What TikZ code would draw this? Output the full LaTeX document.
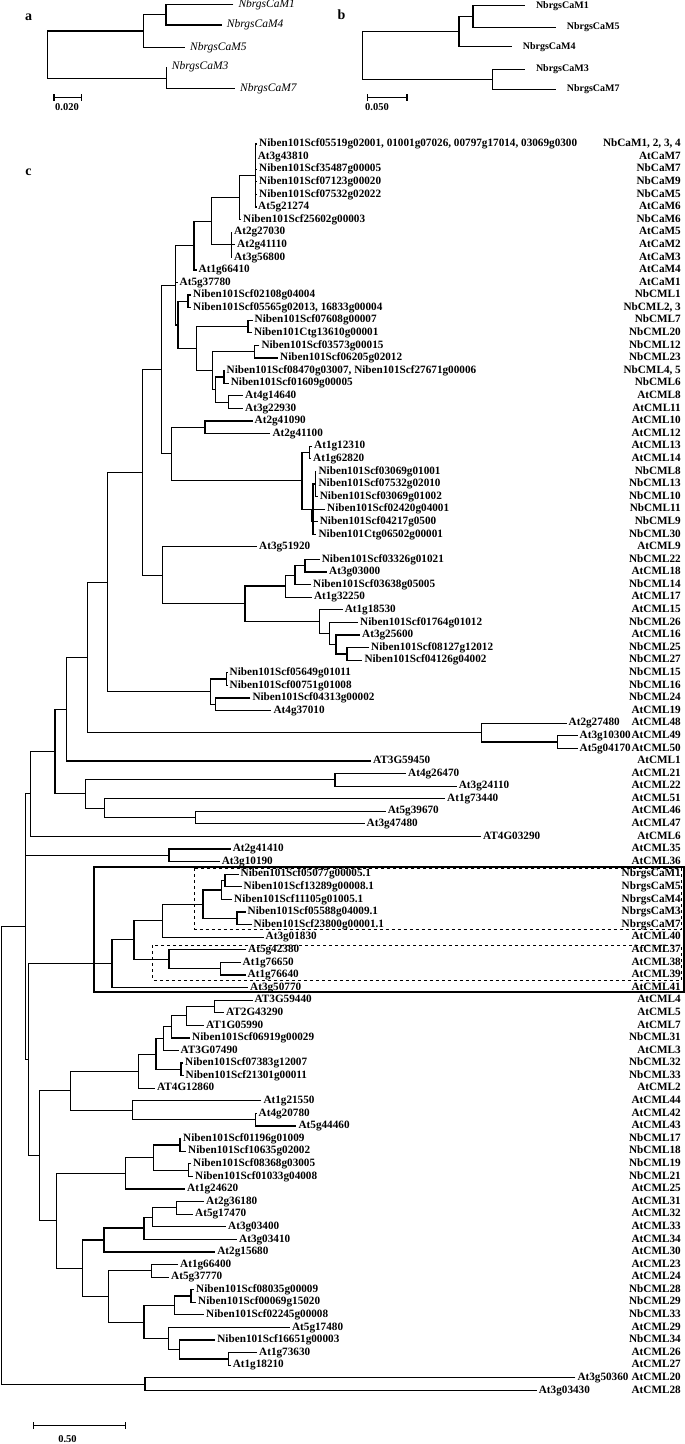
\documentclass[tikz,border=0pt]{standalone}
\usepackage{fontspec}
\setmainfont{Liberation Serif}
\usetikzlibrary{arrows.meta}
\newcommand{\ry}[1]{144+12.59*(#1-1)}
\begin{document}
\begin{tikzpicture}[x=1pt,y=-1pt,
	leaf/.style={anchor=west,inner xsep=2pt,inner ysep=0pt,font=\fontsize{11.2}{12}\selectfont\bfseries,text height=7.6pt,text depth=2.2pt},
	prot/.style={anchor=east,inner sep=0pt,font=\fontsize{11.2}{12}\selectfont\bfseries,text height=7.6pt,text depth=2.2pt},
	ital/.style={anchor=west,inner xsep=5pt,inner ysep=0pt,font=\fontsize{11.5}{12}\selectfont\itshape},
	bold/.style={anchor=west,inner xsep=11pt,inner ysep=0pt,font=\fontsize{10}{12}\selectfont\bfseries},
	panel/.style={font=\fontsize{14}{14}\selectfont\bfseries,inner sep=0pt},
	scl/.style={font=\fontsize{10.5}{12}\selectfont\bfseries,inner sep=0pt},
	tree/.style={line width=1.2pt},
	bar/.style={line width=1.2pt,{Bar[width=7pt]}-{Bar[width=7pt]}}]
\useasboundingbox (0,0) rectangle (685,1444);
% panel a
\node[panel] (pa) at (28.5,17) {a};
\coordinate (a0) at (47.7,54.65);
\coordinate (a1) at (143.3,31);
\coordinate (a2) at (166.7,78.3);
\coordinate (a3) at (166,14.7);
\node[ital] (aM1) at (233.3,4.3) {NbrgsCaM1};
\node[ital] (aM4) at (221.7,25) {NbrgsCaM4};
\node[ital] (aM5) at (185,47.3) {NbrgsCaM5};
\node[ital] (aM3) at (166.7,67) {NbrgsCaM3};
\node[ital] (aM7) at (235,88.3) {NbrgsCaM7};
\foreach \p/\a/\b in {a0/a1/a2,a1/a3/aM5,a3/aM1/aM4,a2/aM3/aM7}
	\draw[tree] (\a) -| (\p) |- (\b);
\draw[bar] (53.3,97.7) -- (81.7,97.7);
\node[scl] (sa) at (67,106.7) {0.020};
% panel b
\node[panel] (pb) at (341.5,15) {b};
\coordinate (b0) at (362.3,55);
\coordinate (b1) at (459,31.6);
\coordinate (b2) at (492.8,79.3);
\coordinate (b3) at (473,16.5);
\node[bold] (bM1) at (524.8,5.7) {NbrgsCaM1};
\node[bold] (bM5) at (555.6,27.3) {NbrgsCaM5};
\node[bold] (bM4) at (511.6,46.7) {NbrgsCaM4};
\node[bold] (bM3) at (524.8,69.3) {NbrgsCaM3};
\node[bold] (bM7) at (555.6,89.3) {NbrgsCaM7};
\foreach \p/\a/\b in {b0/b1/b2,b1/b3/bM4,b3/bM1/bM5,b2/bM3/bM7}
	\draw[tree] (\a) -| (\p) |- (\b);
\draw[bar] (366.7,97.7) -- (407.6,97.7);
\node[scl] (sb) at (377,107) {0.050};
% panel c
\node[panel] (pc) at (28.5,172) {c};
\foreach \i/\tip/\locus/\protein in {
	1/257/{Niben101Scf05519g02001, 01001g07026, 00797g17014, 03069g0300}/{NbCaM1, 2, 3, 4},
	2/255.6/At3g43810/AtCaM7, 3/257/Niben101Scf35487g00005/NbCaM7,
	4/257/Niben101Scf07123g00020/NbCaM9, 5/257/Niben101Scf07532g02022/NbCaM5,
	6/256/At5g21274/AtCaM6, 7/241/Niben101Scf25602g00003/NbCaM6,
	8/232/At2g27030/AtCaM5, 9/235/At2g41110/AtCaM2, 10/232/At3g56800/AtCaM3,
	11/196.5/At1g66410/AtCaM4, 12/177.5/At5g37780/AtCaM1,
	13/191/Niben101Scf02108g04004/NbCML1,
	14/191/{Niben101Scf05565g02013, 16833g00004}/{NbCML2, 3},
	15/252.5/Niben101Scf07608g00007/NbCML7, 16/251.8/Niben101Ctg13610g00001/NbCML20,
	17/259.3/Niben101Scf03573g00015/NbCML12, 18/278/Niben101Scf06205g02012/NbCML23,
	19/224.5/{Niben101Scf08470g03007, Niben101Scf27671g00006}/{NbCML4, 5},
	20/228.6/Niben101Scf01609g00005/NbCML6,
	21/243/At4g14640/AtCML8, 22/243/At3g22930/AtCML11,
	23/252.5/At2g41090/AtCML10, 24/270.3/At2g41100/AtCML12,
	25/312/At1g12310/AtCML13, 26/311/At1g62820/AtCML14,
	27/316.4/Niben101Scf03069g01001/NbCML8, 28/316.4/Niben101Scf07532g02010/NbCML13,
	29/317.7/Niben101Scf03069g01002/NbCML10, 30/325/Niben101Scf02420g04001/NbCML11,
	31/317.7/Niben101Scf04217g0500/NbCML9, 32/316.4/Niben101Ctg06502g00001/NbCML30,
	33/257/At3g51920/AtCML9, 34/319.7/Niben101Scf03326g01021/NbCML22,
	35/327/At3g03000/AtCML18, 36/311/Niben101Scf03638g05005/NbCML14,
	37/311.8/At1g32250/AtCML17, 38/342.6/At1g18530/AtCML15,
	39/358/Niben101Scf01764g01012/NbCML26, 40/360/At3g25600/AtCML16,
	41/369/Niben101Scf08127g12012/NbCML25, 42/362.3/Niben101Scf04126g04002/NbCML27,
	43/227.5/Niben101Scf05649g01011/NbCML15, 44/227.5/Niben101Scf00751g01008/NbCML16,
	45/250.3/Niben101Scf04313g00002/NbCML24, 46/271.4/At4g37010/AtCML19,
	47/566.5/At2g27480/AtCML48, 48/577.5/At3g10300/AtCML49, 49/577.5/At5g04170/AtCML50,
	50/371/AT3G59450/AtCML1, 51/406/At4g26470/AtCML21, 52/456.7/At3g24110/AtCML22,
	53/445/At1g73440/AtCML51, 54/385.6/At5g39670/AtCML46, 55/364.5/At3g47480/AtCML47,
	56/481/AT4G03290/AtCML6, 57/230.6/At2g41410/AtCML35, 58/219.6/At3g10190/AtCML36,
	59/238.5/Niben101Scf05077g00005.1/NbrgsCaM1, 60/241.5/Niben101Scf13289g00008.1/NbrgsCaM5,
	61/232/Niben101Scf11105g01005.1/NbrgsCaM4, 62/245.5/Niben101Scf05588g04009.1/NbrgsCaM3,
	63/251.5/Niben101Scf23800g00001.1/NbrgsCaM7, 64/263.5/At3g01830/AtCML40,
	65/246/At5g42380/AtCML37, 66/240.5/At1g76650/AtCML38, 67/245.5/At1g76640/AtCML39,
	68/248/At3g50770/AtCML41, 69/252.5/AT3G59440/AtCML4, 70/224/AT2G43290/AtCML5,
	71/204/AT1G05990/AtCML7, 72/190/Niben101Scf06919g00029/NbCML31, 73/178.5/AT3G07490/AtCML3,
	74/183/Niben101Scf07383g12007/NbCML32, 75/183.5/Niben101Scf21301g00011/NbCML33,
	76/155/AT4G12860/AtCML2, 77/261.3/At1g21550/AtCML44, 78/256.5/At4g20780/AtCML42,
	79/296.4/At5g44460/AtCML43, 80/181/Niben101Scf01196g01009/NbCML17,
	81/186/Niben101Scf10635g02002/NbCML18, 82/191/Niben101Scf08368g03005/NbCML19,
	83/193/Niben101Scf01033g04008/NbCML21, 84/185/At1g24620/AtCML25,
	85/204/At2g36180/AtCML31, 86/193/At5g17470/AtCML32, 87/226/At3g03400/AtCML33,
	88/237/At3g03410/AtCML34, 89/215.2/At2g15680/AtCML30, 90/178/At1g66400/AtCML23,
	91/169/At5g37770/AtCML24, 92/194/Niben101Scf08035g00009/NbCML28,
	93/196/Niben101Scf00069g15020/NbCML29, 94/204/Niben101Scf02245g00008/NbCML33,
	95/289.9/At5g17480/AtCML29, 96/215.2/Niben101Scf16651g00003/NbCML34,
	97/257/At1g73630/AtCML26, 98/230.6/At1g18210/AtCML27,
	99/575.3/At3g50360/AtCML20, 100/536.7/At3g03430/AtCML28}{
	\node[leaf] (l\i) at (\tip,{\ry{\i}}) {\locus};
	\node[prot] (r\i) at (681,{\ry{\i}}) {\protein};
}
% inner nodes: name/x/row
\foreach \n/\x/\r in {nA/255.6/3.5, nB/239.4/5.25, nCat/231.4/9, nC/211.7/7.125, nD/194/9.06,
	nH14/188/13.5, nG16/248/15.5, n18/254.7/17.5, n20/224/19.5, n22/228.4/21.5, n490/215.2/20.5,
	n483/212.1/19, n448/196.7/17.25, nH/177.9/15.375, nQ/175.7/12.22, n23/205/23.5,
	n26/309.6/25.5, k1/315.3/28, k2/311.8/30.5, k3/313/30, k4/302/27.75, n171/171.3/25.6,
	nR/161.6/18.9, W3/305/34.5, W2/295/35.25, W/285.5/36.1, X4/347/41.5, X3/336/40.75,
	X2/329.4/39.9, X/319.3/38.95, V/245/37.5, T/162.5/35.25, S/142.7/27.1, n44/226.2/43.5,
	n46/215.2/45.5, Y/210.8/44.5, U/107.6/35.8, n49/557.7/48.5, AA/481.8/47.75, Z/87.8/41.8,
	BB/66.8/45.9, n52/335/51.5, n55/195.4/54.5, n238/104.5/53.75, DD/85.6/52.6, CC/54.9/49.25,
	EE/30.7/52.6, GG/169/57.5, n60/224.9/59.5, n61/221.8/60.25, n63/237/62.5, n462/203/61.4,
	n370/162.5/62.7, n502/220.5/66.5, n385/169/65.75, n305/134/64.2, nBox/112/66.1,
	n70/214.3/69.5, n71/186.6/70.25, n72/171.3/71.1, n73/163.4/72.05, n75/181/74.5,
	n355/156/73.3, n315/138.3/74.65, n79/255.6/78.5, n302/132.6/77.75, M/70.3/76.2,
	n81/180/80.5, n83/188.8/82.5, n350/153.7/81.5, n285/125.2/82.75, n86/176.5/85.5,
	n348/152.8/86.25, n328a/144/87.1, n237/104/88.05, n91/151.5/90.5, n93/191/92.5,
	n398/174.8/93.25, n98/228.4/97.5, n408/179.2/96.75, n383/168.2/95.9, n328b/144/94.6,
	n247/108.5/92.55, n188/82.6/90.3, n128/56.2/86.5, L/39.5/81.35, N3/28.5/73.7,
	N1/25.5/63.15, n100/145/99.5, root/1.5/81.3}
	\coordinate (\n) at (\x,{\ry{\r}});
% clades: node/upper child/lower child
\foreach \p/\a/\b in {nA/l1/l6,nB/nA/l7,nCat/l8/l10,nC/nB/nCat,nD/nC/l11,nH14/l13/l14,
	nG16/l15/l16,n18/l17/l18,n20/l19/l20,n22/l21/l22,n490/n20/n22,n483/n18/n490,n448/nG16/n483,
	nH/nH14/n448,nQ/nD/nH,n23/l23/l24,n26/l25/l26,k1/l27/l29,k2/l30/l31,k3/k1/l32,k4/n26/k3,
	n171/n23/k4,nR/nQ/n171,W3/l34/l35,W2/W3/l36,W/W2/l37,X4/l41/l42,X3/l40/X4,X2/l39/X3,
	X/l38/X2,V/W/X,T/l33/V,S/nR/T,n44/l43/l44,n46/l45/l46,Y/n44/n46,U/S/Y,n49/l48/l49,
	AA/l47/n49,Z/U/AA,BB/Z/l50,n52/l51/l52,n55/l54/l55,n238/l53/n55,DD/n52/n238,CC/BB/DD,
	EE/CC/l56,GG/l57/l58,n60/l59/l60,n61/n60/l61,n63/l62/l63,n462/n61/n63,n370/n462/l64,
	n502/l66/l67,n385/l65/n502,n305/n370/n385,nBox/n305/l68,n70/l69/l70,n71/n70/l71,
	n72/n71/l72,n73/n72/l73,n75/l74/l75,n355/n73/n75,n315/n355/l76,n79/l78/l79,n302/l77/n79,
	M/n315/n302,n81/l80/l81,n83/l82/l83,n350/n81/n83,n285/n350/l84,n86/l85/l86,n348/n86/l87,
	n328a/n348/l88,n237/n328a/l89,n91/l90/l91,n93/l92/l93,n398/n93/l94,n98/l97/l98,
	n408/l96/n98,n383/l95/n408,n328b/n398/n383,n247/n91/n328b,n188/n237/n247,n128/n285/n188,
	L/M/n128,N3/nBox/L,N1/EE/N3,n100/l99/l100,root/N1/n100}
	\draw[tree] (\a) -| (\p) |- (\b);
% middle children
\foreach \p/\c in {nA/l2,nA/l3,nA/l4,nA/l5,nCat/l9,nQ/l12,k1/l28,k3/k2,N1/GG}
	\draw[tree] (\p) |- (\c);
% boxes
\draw[line width=2pt] (93.5,867.3) rectangle (684,991.7);
\draw[dashed,line width=0.8pt] (194.6,868.3) rectangle (681.5,929.3);
\draw[dashed,line width=0.8pt] (152.8,945) rectangle (681.5,980);
\draw[bar] (33,1425.7) -- (126,1425.7);
\node[scl] (sc) at (67.5,1439) {0.50};
\end{tikzpicture}
\end{document}
